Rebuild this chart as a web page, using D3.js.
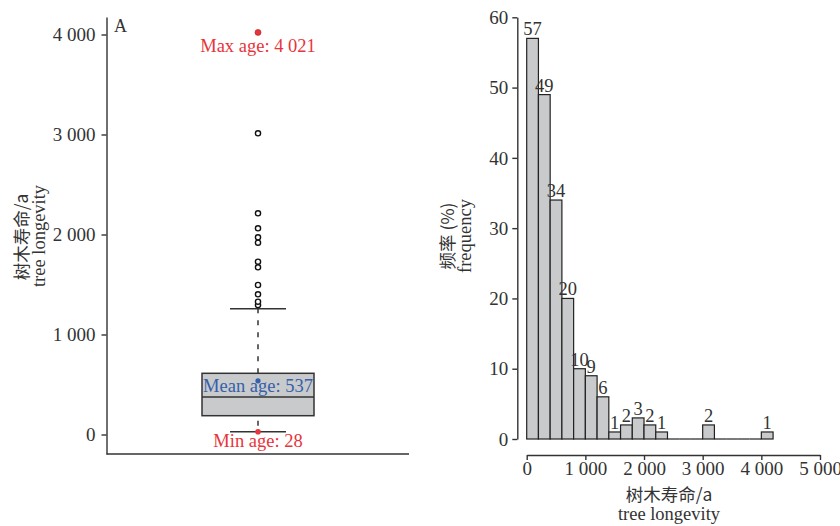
<!DOCTYPE html>
<html>
<head>
<meta charset="utf-8">
<script src="https://cdn.jsdelivr.net/npm/d3@7"></script>
<style>
  body { margin: 0; background: #fff; }
  text { font-family: "Liberation Serif", "Noto Sans CJK SC", serif; fill: #333; }
</style>
</head>
<body>
<div id="chart"></div>
<script>
// box plot values (tree longevity, years)
var boxStats = { min: 28, q1: 188, median: 375, q3: 612, upper: 1258, mean: 537, max: 4021 };
var outliers = [1295, 1328, 1402, 1495, 1672, 1728, 1918, 1972, 2062, 2212, 3012];
var boxTicks = [0, 1000, 2000, 3000, 4000];

// histogram: bins of 200 years
var binStarts = d3.range(0, 4200, 200);
var binCounts = [57, 49, 34, 20, 10, 9, 6, 1, 2, 3, 2, 1, 0, 0, 0, 2, 0, 0, 0, 0, 1];
var histYTicks = [0, 10, 20, 30, 40, 50, 60];
var histXTicks = [0, 1000, 2000, 3000, 4000, 5000];

const W = 840, H = 526;
const grey = "#333";
const red = "#e8343b";
const blue = "#3560aa";
const fillGrey = "#c9cacc";
const tickFont = "19px";
const noteFont = "18.5px";

const loc = d3.formatLocale({ decimal: ".", thousands: " ", grouping: [3], currency: ["", ""] });
const fmt = loc.format(",");

const svg = d3.select("#chart").append("svg")
  .attr("width", W)
  .attr("height", H);

// ---------- left panel: box plot ----------
const yBox = d3.scaleLinear().domain([-195, 4175]).range([454, 17]);
const cx = 258;

const left = svg.append("g");

left.append("g")
  .attr("transform", "translate(106.5,0)")
  .call(d3.axisLeft(yBox).tickValues(boxTicks).tickFormat(fmt).tickSize(5).tickSizeOuter(0))
  .call(g => g.selectAll("text").style("font-size", tickFont).attr("x", -11).attr("dy", "0.33em"));

// bottom line
left.append("line")
  .attr("x1", 106.5).attr("x2", 409)
  .attr("y1", yBox(-195)).attr("y2", yBox(-195))
  .attr("stroke", grey).attr("stroke-width", 1.5);

left.selectAll(".domain, .tick line").attr("stroke", grey).attr("stroke-width", 1.4);

// whiskers
left.append("line")
  .attr("x1", cx).attr("x2", cx)
  .attr("y1", yBox(boxStats.q3)).attr("y2", yBox(boxStats.upper))
  .attr("stroke", grey).attr("stroke-width", 1.5).attr("stroke-dasharray", "5,7");
left.append("line")
  .attr("x1", cx).attr("x2", cx)
  .attr("y1", yBox(boxStats.q1) + 5).attr("y2", yBox(boxStats.min))
  .attr("stroke", grey).attr("stroke-width", 1.5).attr("stroke-dasharray", "5,7");

[boxStats.upper, boxStats.min].forEach(function(v) {
  left.append("line")
    .attr("x1", cx - 28).attr("x2", cx + 28)
    .attr("y1", yBox(v)).attr("y2", yBox(v))
    .attr("stroke", grey).attr("stroke-width", 1.5);
});

// box
left.append("rect")
  .attr("x", cx - 56).attr("width", 112)
  .attr("y", yBox(boxStats.q3))
  .attr("height", yBox(boxStats.q1) - yBox(boxStats.q3))
  .attr("fill", fillGrey).attr("stroke", grey).attr("stroke-width", 1.5);
left.append("line")
  .attr("x1", cx - 56).attr("x2", cx + 56)
  .attr("y1", yBox(boxStats.median)).attr("y2", yBox(boxStats.median))
  .attr("stroke", grey).attr("stroke-width", 1.5);

// outliers
left.selectAll(".out")
  .data(outliers)
  .enter()
  .append("circle")
  .attr("cx", cx)
  .attr("cy", d => yBox(d))
  .attr("r", 2.6)
  .attr("fill", "#fff")
  .attr("stroke", "#111")
  .attr("stroke-width", 1.4);

// max, mean, min points
left.append("circle").attr("cx", cx).attr("cy", yBox(boxStats.max)).attr("r", 3).attr("fill", red).attr("stroke", "#a22").attr("stroke-width", 0.6);
left.append("circle").attr("cx", cx).attr("cy", yBox(boxStats.mean)).attr("r", 2.6).attr("fill", blue);
left.append("circle").attr("cx", cx).attr("cy", yBox(boxStats.min)).attr("r", 2.8).attr("fill", red);

left.append("text").attr("x", cx).attr("y", 52).attr("text-anchor", "middle")
  .style("font-size", noteFont).style("fill", red).text("Max age: " + fmt(boxStats.max));
left.append("text").attr("x", cx).attr("y", 392).attr("text-anchor", "middle")
  .style("font-size", noteFont).style("fill", blue).text("Mean age: " + boxStats.mean);
left.append("text").attr("x", cx).attr("y", 447).attr("text-anchor", "middle")
  .style("font-size", noteFont).style("fill", red).text("Min age: " + boxStats.min);

left.append("text").attr("x", 114).attr("y", 32).style("font-size", "18px").text("A");

// y label
left.append("text")
  .attr("transform", "translate(28,237) rotate(-90)")
  .attr("text-anchor", "middle")
  .style("font-size", "17.5px")
  .style("font-family", "'Noto Sans CJK SC', sans-serif")
  .text("树木寿命/a");
left.append("text")
  .attr("transform", "translate(45,236) rotate(-90)")
  .attr("text-anchor", "middle")
  .style("font-size", "18.5px")
  .text("tree longevity");

// ---------- right panel: histogram ----------
const xH = d3.scaleLinear().domain([0, 5000]).range([526.7, 820]);
const yH = d3.scaleLinear().domain([0, 60]).range([439, 17.3]);

const right = svg.append("g");

right.append("g")
  .attr("transform", "translate(517.3,0)")
  .call(d3.axisLeft(yH).tickValues(histYTicks).tickSize(5).tickSizeOuter(0))
  .call(g => g.selectAll("text").style("font-size", tickFont).attr("x", -9).attr("dy", "0.33em"));

right.append("g")
  .attr("transform", "translate(0,455)")
  .call(d3.axisBottom(xH).tickValues(histXTicks).tickFormat(fmt).tickSize(5).tickSizeOuter(0))
  .call(g => g.selectAll("text").style("font-size", tickFont).attr("y", 7).attr("dy", "0.71em"));

right.selectAll(".domain, .tick line").attr("stroke", grey).attr("stroke-width", 1.4);
svg.selectAll(".tick text").style("fill", grey);

const bins = binStarts.map((s, i) => ({ x0: s, x1: s + 200, n: binCounts[i] }));

// empty bins show only as a flat line on the baseline
right.selectAll(".flat")
  .data(bins.filter(d => d.n === 0))
  .enter()
  .append("line")
  .attr("x1", d => xH(d.x0))
  .attr("x2", d => xH(d.x1))
  .attr("y1", yH(0))
  .attr("y2", yH(0))
  .attr("stroke", "#222")
  .attr("stroke-width", 1.2);

right.selectAll(".bar")
  .data(bins.filter(d => d.n > 0))
  .enter()
  .append("rect")
  .attr("x", d => xH(d.x0))
  .attr("width", d => xH(d.x1) - xH(d.x0))
  .attr("y", d => yH(d.n))
  .attr("height", d => yH(0) - yH(d.n))
  .attr("fill", fillGrey)
  .attr("stroke", "#222")
  .attr("stroke-width", 1.2);

right.selectAll(".lab")
  .data(bins.filter(d => d.n > 0))
  .enter()
  .append("text")
  .attr("x", d => (xH(d.x0) + xH(d.x1)) / 2)
  .attr("y", d => yH(d.n) - 3)
  .attr("text-anchor", "middle")
  .style("font-size", noteFont)
  .text(d => d.n);

right.append("text")
  .attr("transform", "translate(454,236) rotate(-90)")
  .attr("text-anchor", "middle")
  .style("font-size", "17.5px")
  .style("font-family", "'Noto Sans CJK SC', sans-serif")
  .text("频率 (%)");
right.append("text")
  .attr("transform", "translate(471,236) rotate(-90)")
  .attr("text-anchor", "middle")
  .style("font-size", "18.5px")
  .text("frequency");

right.append("text")
  .attr("x", 669).attr("y", 501)
  .attr("text-anchor", "middle")
  .style("font-size", "17.5px")
  .style("font-family", "'Noto Sans CJK SC', sans-serif")
  .text("树木寿命/a");
right.append("text")
  .attr("x", 669).attr("y", 520)
  .attr("text-anchor", "middle")
  .style("font-size", "18.5px")
  .text("tree longevity");
</script>
</body>
</html>
